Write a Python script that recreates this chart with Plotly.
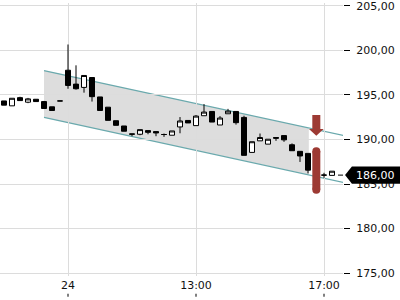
import plotly.graph_objects as go

# ---- data ----
idx = list(range(-8, 34))
opens = [194.33, 193.78, 194.70, 194.19, 194.52, 194.26, 193.67, 194.33,
         197.78, 196.22, 195.85, 196.96, 194.78, 193.63, 192.11, 191.52,
         190.63, 190.59, 191.00, 190.89, 190.56, 190.48, 191.41, 192.14,
         191.56, 192.67, 193.15, 191.63, 192.89, 193.15, 192.48, 188.55,
         189.85, 189.48, 190.22, 190.44, 189.41, 188.67, 188.44, 186.52,
         186.00, 185.97]
highs = [194.33, 194.63, 194.80, 194.67, 194.52, 194.33, 193.67, 194.33,
         200.67, 198.33, 197.19, 196.96, 194.78, 193.63, 192.11, 191.52,
         190.63, 191.11, 191.00, 190.89, 190.67, 190.96, 192.52, 192.14,
         192.74, 193.97, 193.15, 192.63, 193.44, 193.15, 192.67, 189.75,
         190.67, 190.03, 190.22, 190.44, 189.56, 188.67, 188.44, 187.33,
         186.26, 186.44]
lows = [193.86, 193.78, 194.37, 194.08, 194.26, 193.48, 193.26, 194.33,
        195.70, 195.60, 195.26, 194.26, 193.26, 192.15, 191.59, 190.93,
        190.37, 190.48, 190.59, 190.37, 190.30, 190.48, 190.70, 191.86,
        191.56, 192.67, 191.96, 191.63, 192.89, 191.67, 188.22, 188.55,
        189.85, 189.48, 189.85, 189.74, 188.74, 187.48, 186.19, 186.03,
        185.70, 185.97]
closes = [193.86, 194.63, 194.37, 194.56, 194.26, 193.48, 193.26, 194.33,
          196.07, 195.70, 197.19, 194.81, 193.26, 192.15, 191.59, 190.93,
          190.60, 191.11, 190.81, 190.74, 190.56, 190.96, 192.08, 191.86,
          192.63, 193.08, 191.96, 192.41, 193.19, 191.89, 188.22, 189.75,
          190.22, 190.03, 190.15, 189.96, 188.74, 188.15, 186.56, 186.03,
          186.00, 186.44]

tick_pos = [0, 16, 32]
tick_text = ["24", "13:00", "17:00"]
y_ticks = [175, 180, 185, 190, 195, 200, 205]

channel_x = [-3, 34.6]
channel_top = [197.74, 190.41]
channel_bottom = [192.48, 185.14]
fill_x = [-3, 30.1]
fill_top = [197.74, 191.29]
fill_bottom = [192.48, 186.03]

signal_x = 31.04
arrow_top, arrow_neck, arrow_tip = 192.74, 191.19, 190.41
bar_top, bar_bottom = 188.67, 184.37

last_price = 186.00
last_label = "186,00"

X_RANGE = [-8.5, 34.375]
Y_RANGE = [174.67, 205.33]

RED = "#9d3a33"
TEAL = "#6aa9ad"
GRID = "#dcdcdc"
FONT = "DejaVu Sans"

fig = go.Figure()

shapes = []
# channel fill (below traces)
shapes.append(dict(
    type="path", xref="x", yref="y", layer="below",
    path=(f"M {fill_x[0]} {fill_top[0]} L {fill_x[1]} {fill_top[1]} "
          f"L {fill_x[1]} {fill_bottom[1]} L {fill_x[0]} {fill_bottom[0]} Z"),
    fillcolor="#dddddd", line=dict(width=0)))
for ys in (channel_top, channel_bottom):
    shapes.append(dict(type="line", xref="x", yref="y", layer="below",
                       x0=channel_x[0], x1=channel_x[1], y0=ys[0], y1=ys[1],
                       line=dict(color=TEAL, width=1.2)))

fig.add_trace(go.Candlestick(
    x=idx, open=opens, high=highs, low=lows, close=closes,
    increasing=dict(line=dict(color="black", width=1), fillcolor="white"),
    decreasing=dict(line=dict(color="black", width=1), fillcolor="black"),
    whiskerwidth=0, showlegend=False))

# last price stub
fig.add_trace(go.Scatter(x=[idx[-1] + 0.75, X_RANGE[1]], y=[last_price, last_price],
                         mode="lines", line=dict(color="black", width=1),
                         hoverinfo="skip", showlegend=False))

# red signal bar with round caps
fig.add_trace(go.Scatter(x=[signal_x, signal_x], y=[bar_top, bar_bottom],
                         mode="lines+markers",
                         line=dict(color=RED, width=8),
                         marker=dict(color=RED, size=8, symbol="circle"),
                         hoverinfo="skip", showlegend=False))

# red down arrow
sw, hw = 0.5, 0.92
fig.add_trace(go.Scatter(
    x=[signal_x - sw, signal_x + sw, signal_x + sw, signal_x + hw, signal_x,
       signal_x - hw, signal_x - sw, signal_x - sw],
    y=[arrow_top, arrow_top, arrow_neck, arrow_neck, arrow_tip,
       arrow_neck, arrow_neck, arrow_top],
    fill="toself", fillcolor=RED, line=dict(width=0, color=RED),
    mode="lines", hoverinfo="skip", showlegend=False))

# bottom x tick marks
for t in tick_pos:
    shapes.append(dict(type="line", xref="x", yref="paper", x0=t, x1=t,
                       y0=-0.065, y1=-0.076, line=dict(color="black", width=1)))

# last price label (arrow shaped)
yp = (last_price - Y_RANGE[0]) / (Y_RANGE[1] - Y_RANGE[0])
h = 0.0315
shapes.append(dict(type="path", xref="paper", yref="paper",
                   path=f"M 1.006 {yp} L 1.026 {yp + h} L 1.17 {yp + h} L 1.17 {yp - h} L 1.026 {yp - h} Z",
                   fillcolor="black", line=dict(width=0)))

fig.update_layout(
    width=400, height=300,
    margin=dict(l=0, r=57, t=0, b=24),
    paper_bgcolor="white", plot_bgcolor="white",
    separators=",.",
    font=dict(family=FONT, size=11, color="#111111"),
    showlegend=False,
    boxgap=0.375, boxgroupgap=0,
    shapes=shapes,
    annotations=[dict(xref="paper", yref="y", x=1.096, y=last_price,
                      xanchor="center", yanchor="middle",
                      text=last_label, showarrow=False,
                      font=dict(family=FONT, size=11, color="white"))],
    xaxis=dict(range=X_RANGE, tickvals=tick_pos, ticktext=tick_text,
               showgrid=True, gridcolor=GRID, gridwidth=1, zeroline=False,
               showline=False, ticks="", rangeslider=dict(visible=False),
               ticklabelstandoff=1, fixedrange=True),
    yaxis=dict(range=Y_RANGE, side="right", tickvals=y_ticks,
               tickformat=".2f", showgrid=True, gridcolor=GRID, gridwidth=1,
               zeroline=False, showline=False, ticks="outside", ticklen=6,
               tickcolor="black", ticklabelstandoff=4,
               ticklabeloverflow="allow", fixedrange=True),
)

fig.write_html("out.html")
